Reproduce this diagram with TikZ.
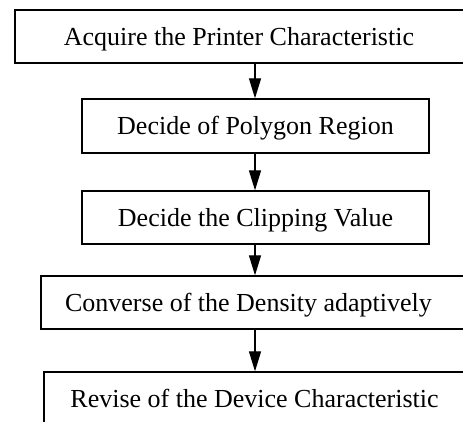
\documentclass[tikz,border=0pt]{standalone}
\usepackage{fontspec}
\setmainfont{Liberation Serif}
\usetikzlibrary{arrows.meta}
\begin{document}
\begin{tikzpicture}[x=1pt,y=1pt,
  stepbox/.style={draw, line width=1.3pt, inner sep=0pt, text height=20pt, text depth=3pt, font=\fontsize{26}{30}\selectfont},
  arr/.style={line width=1.2pt, -{Triangle[length=20pt,width=12pt]}}]
\useasboundingbox (0,0) rectangle (463,-421);
\node[stepbox, minimum width=460, minimum height=53] (b1) at (245,-36.5) {\hspace*{-12pt}Acquire the Printer Characteristic};
\node[stepbox, minimum width=347, minimum height=54] (b2) at (255.5,-126) {Decide of Polygon Region};
\node[stepbox, minimum width=347, minimum height=53] (b3) at (255.5,-217.5) {Decide the Clipping Value};
\node[stepbox, minimum width=434, minimum height=53] (b4) at (258,-302.5) {\hspace*{-19pt}Converse of the Density adaptively};
\node[stepbox, minimum width=431, minimum height=53] (b5) at (259.5,-398.5) {\hspace*{-10pt}Revise of the Device Characteristic};
\coordinate (ax) at (255,0);
\draw[arr] (ax |- b1.south) -- (ax |- b2.north);
\draw[arr] (ax |- b2.south) -- (ax |- b3.north);
\draw[arr] (ax |- b3.south) -- (ax |- b4.north);
\draw[arr] (ax |- b4.south) -- (ax |- b5.north);
\end{tikzpicture}
\end{document}
